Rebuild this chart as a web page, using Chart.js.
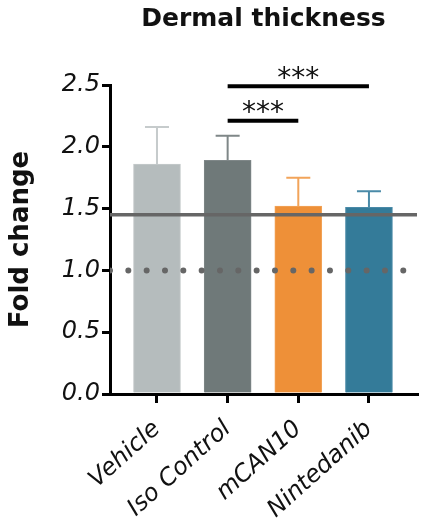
<!DOCTYPE html>
<html>
<head>
<meta charset="utf-8">
<script src="https://cdn.jsdelivr.net/npm/chart.js@4"></script>
<style>
  html, body { margin: 0; padding: 0; background: #fff; }
  #wrap { width: 428px; height: 529px; }
</style>
</head>
<body>
<div id="wrap"><canvas id="dermalChart"></canvas></div>
<script>
// data
const categories = ['Vehicle', 'Iso Control', 'mCAN10', 'Nintedanib'];
const means = [1.86, 1.89, 1.52, 1.51];
const errors = [0.30, 0.20, 0.23, 0.13];
const yTicks = [0, 0.5, 1.0, 1.5, 2.0, 2.5];
const thresholdLine = 1.45;
const baselineLine = 1.0;
const sigFrom = [1, 1];
const sigTo = [3, 2];
const sigY = [2.49, 2.21];
const sigLabels = ['***', '***'];

const barColors = ['#b5bcbd', '#6f7979', '#ee9038', '#347b99'];
const errColors = ['#c6cbcc', '#7f8788', '#f2a45a', '#4a8aa8'];
const xMin = -0.665, xMax = 3.68;
const FONT = '"DejaVu Sans", sans-serif';

const errorBars = {
  id: 'errorBars',
  afterDatasetsDraw(chart) {
    const ctx = chart.ctx;
    const y = chart.scales.y;
    const meta = chart.getDatasetMeta(0);
    ctx.save();
    meta.data.forEach((bar, i) => {
      const top = y.getPixelForValue(means[i] + errors[i]);
      const base = y.getPixelForValue(means[i]);
      ctx.strokeStyle = errColors[i];
      ctx.lineWidth = 2;
      ctx.beginPath();
      ctx.moveTo(bar.x, base);
      ctx.lineTo(bar.x, top);
      ctx.moveTo(bar.x - 12, top);
      ctx.lineTo(bar.x + 12, top);
      ctx.stroke();
    });
    // significance stars
    const x = chart.scales.x;
    ctx.fillStyle = '#111';
    ctx.font = '28px "DejaVu Sans", sans-serif';
    ctx.textAlign = 'center';
    ctx.textBaseline = 'middle';
    sigLabels.forEach((t, i) => {
      const cx = (x.getPixelForValue(sigFrom[i]) + x.getPixelForValue(sigTo[i])) / 2;
      ctx.fillText(t, cx, y.getPixelForValue(sigY[i]) - 7);
    });
    ctx.restore();
  }
};

const datasets = [
  {
    type: 'bar',
    data: means.map((v, i) => ({ x: i, y: v })),
    backgroundColor: barColors,
    borderColor: errColors,
    borderWidth: 1,
    barThickness: 47,
    order: 2
  },
  {
    type: 'line',
    data: [{ x: xMin, y: thresholdLine }, { x: xMax, y: thresholdLine }],
    borderColor: '#666666',
    borderWidth: 3.5,
    pointRadius: 0,
    order: 0
  },
  {
    type: 'line',
    data: [{ x: xMin, y: baselineLine }, { x: xMax, y: baselineLine }],
    borderColor: '#666666',
    borderWidth: 6,
    borderDash: [0, 18.33],
    borderCapStyle: 'round',
    pointRadius: 0,
    order: 0
  }
];
sigFrom.forEach((f, i) => {
  datasets.push({
    type: 'line',
    data: [{ x: f, y: sigY[i] }, { x: sigTo[i], y: sigY[i] }],
    borderColor: '#000',
    borderWidth: 4,
    pointRadius: 0,
    clip: false,
    order: 0
  });
});

new Chart(document.getElementById('dermalChart'), {
  type: 'bar',
  data: { datasets },
  plugins: [errorBars],
  options: {
    responsive: true,
    maintainAspectRatio: false,
    animation: false,
    devicePixelRatio: 1,
    layout: { padding: { left: 0, right: 11, top: 0, bottom: 0 } },
    plugins: {
      legend: { display: false },
      tooltip: { enabled: false },
      title: {
        display: true,
        text: 'Dermal thickness',
        fullSize: false,
        color: '#111',
        font: { family: FONT, size: 25, weight: 'bold' },
        padding: { top: 4, bottom: 51 }
      }
    },
    scales: {
      x: {
        type: 'linear',
        min: xMin,
        max: xMax,
        offset: false,
        afterBuildTicks: s => { s.ticks = categories.map((c, i) => ({ value: i })); },
        afterFit: s => { s.height = 135; },
        grid: { display: true, offset: false, drawOnChartArea: false, drawTicks: true, tickLength: 9, color: '#000', lineWidth: 3 },
        border: { display: true, color: '#000', width: 3 },
        ticks: {
          autoSkip: false,
          minRotation: 42,
          maxRotation: 42,
          padding: 12,
          color: '#111',
          font: { family: FONT, size: 24, style: 'italic' },
          callback: v => categories[v] ?? ''
        }
      },
      y: {
        min: 0,
        max: 2.5,
        afterBuildTicks: s => { s.ticks = yTicks.map(v => ({ value: v })); },
        afterFit: s => { s.width = 110; },
        grid: { display: true, drawOnChartArea: false, drawTicks: true, tickLength: 8, color: '#000', lineWidth: 3 },
        border: { display: true, color: '#000', width: 3 },
        ticks: {
          padding: 2,
          color: '#111',
          font: { family: FONT, size: 24, style: 'italic' },
          callback: v => v.toFixed(1)
        },
        title: {
          display: true,
          text: 'Fold change',
          color: '#111',
          font: { family: FONT, size: 26, weight: 'bold' },
          padding: { top: 6, bottom: 2 }
        }
      }
    }
  }
});
</script>
</body>
</html>
